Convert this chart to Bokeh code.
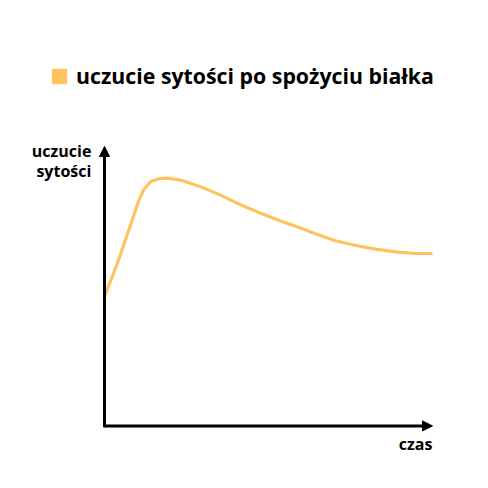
from bokeh.plotting import figure
from bokeh.models import Range1d, Arrow, NormalHead, Label, Legend, LegendItem
from bokeh.embed import file_html
from bokeh.resources import INLINE

# data (time vs. satiety, arbitrary units)
czas = [0.0, 0.39, 0.74, 1.05, 1.20, 1.40, 1.66, 1.91, 2.32, 2.93, 3.54, 4.15,
        4.76, 5.37, 5.98, 6.43, 7.04, 7.65, 8.26, 8.87, 9.48, 10.0]
sytosc = [4.6, 5.79, 6.99, 8.07, 8.45, 8.73, 8.84, 8.86, 8.79, 8.55, 8.25, 7.90,
          7.60, 7.32, 7.07, 6.86, 6.61, 6.44, 6.31, 6.21, 6.15, 6.15]
series_label = "uczucie sytości po spożyciu białka"
x_label = "czas"
y_label = "uczucie\nsytości"

COLOR = "#FFC261"
FONT = "Open Sans"

p = figure(width=472, height=472, output_backend="svg", toolbar_location=None,
           x_range=Range1d(-3.171, 11.22), y_range=Range1d(-1.727, 15.25),
           x_axis_location=None, y_axis_location=None,
           min_border=0)
p.grid.visible = False
p.outline_line_color = None
p.background_fill_color = "white"
p.border_fill_color = "white"

line = p.line(czas, sytosc, line_color=COLOR, line_width=3.2, line_join="round")
# legend swatch (hidden renderer; the legend still draws its square)
swatch = p.quad(left=czas[:1], right=czas[1:2], bottom=sytosc[:1], top=sytosc[1:2],
                fill_color=COLOR, line_color=COLOR, visible=False)

# axes as arrows
p.add_layout(Arrow(end=NormalHead(size=10, fill_color="black", line_color="black"),
                   x_start=0, y_start=-0.05, x_end=10, y_end=-0.05,
                   line_color="black", line_width=3))
p.add_layout(Arrow(end=NormalHead(size=10, fill_color="black", line_color="black"),
                   x_start=0, y_start=-0.1, x_end=0, y_end=10,
                   line_color="black", line_width=3))

p.add_layout(Label(x=10, y=-0.3, text=x_label, text_align="right", text_baseline="top",
                   text_font=FONT, text_font_style="bold", text_font_size="16px",
                   text_color="black"))
p.add_layout(Label(x=-0.4, y=10.25, text=y_label, text_align="right", text_baseline="top",
                   text_font=FONT, text_font_style="bold", text_font_size="16px",
                   text_color="black", text_line_height=0.95))

legend = Legend(items=[LegendItem(label=series_label, renderers=[swatch])],
                location=(50, 382), orientation="horizontal",
                glyph_width=18, glyph_height=18, label_standoff=8,
                padding=0, margin=0, border_line_color=None,
                background_fill_alpha=0,
                label_text_font=FONT, label_text_font_style="bold",
                label_text_font_size="21.3px", label_text_color="black")
p.add_layout(legend, "center")

open("out.html", "w").write(file_html(p, INLINE))
